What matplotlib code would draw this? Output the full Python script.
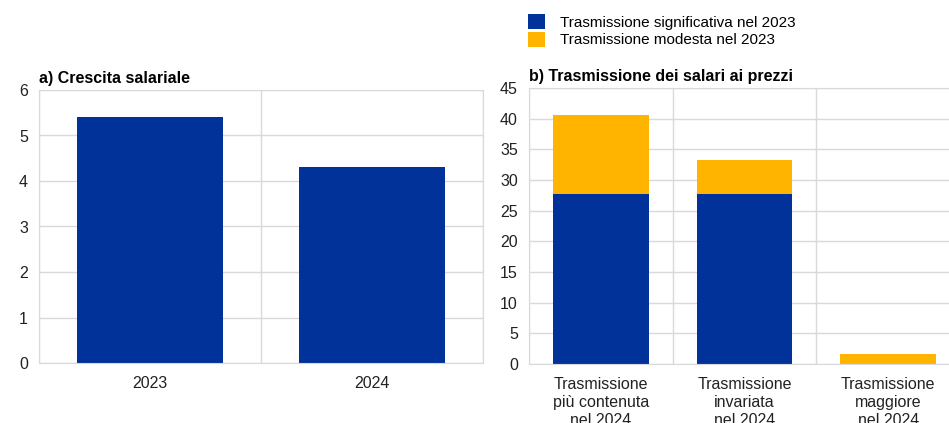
import matplotlib.pyplot as plt
import numpy as np

plt.rcParams["font.family"] = ["Liberation Sans", "DejaVu Sans"]

# panel a: wage growth
anni = ["2023", "2024"]
crescita = [5.4, 4.3]

# panel b: pass-through of wages to prices
categorie = ["Trasmissione\npiù contenuta\nnel 2024",
             "Trasmissione\ninvariata\nnel 2024",
             "Trasmissione\nmaggiore\nnel 2024"]
significativa = [27.7, 27.7, 0.0]
modesta = [12.9, 5.5, 1.7]

BLU = "#003299"
GIALLO = "#FFB400"
GRIGIO = "#d9d9d9"

fig = plt.figure(figsize=(9.49, 4.23), dpi=100)
ax1 = fig.add_axes([39 / 949, 1 - 363 / 423, 444 / 949, 273 / 423])
ax2 = fig.add_axes([529 / 949, 1 - 364 / 423, 431 / 949, 276 / 423])


def stile(ax, n):
    ax.set_xlim(-0.5, n - 0.5)
    ax.set_xticks(np.arange(n))
    ax.set_xticks(np.arange(n + 1) - 0.5, minor=True)
    ax.grid(axis="y", color=GRIGIO, lw=1)
    ax.grid(axis="x", which="minor", color=GRIGIO, lw=1)
    ax.set_axisbelow(True)
    for s in ax.spines.values():
        s.set_color(GRIGIO)
    ax.tick_params(which="both", length=0, labelsize=11.5, colors="#222222")
    ax.tick_params(axis="y", pad=8)


x1 = np.arange(len(anni))
ax1.bar(x1, crescita, width=0.66, color=BLU)
stile(ax1, len(anni))
ax1.set_ylim(0, 6)
ax1.set_yticks(range(0, 7))
ax1.set_xticklabels(anni)
ax1.tick_params(axis="x", pad=9)
ax1.set_title("a) Crescita salariale", loc="left", fontsize=11.5,
              fontweight="bold", x=0, y=1.01, pad=3)

x2 = np.arange(len(categorie))
ax2.bar(x2, significativa, width=0.667, color=BLU,
        label="Trasmissione significativa nel 2023")
ax2.bar(x2, modesta, width=0.667, bottom=significativa, color=GIALLO,
        label="Trasmissione modesta nel 2023")
stile(ax2, len(categorie))
ax2.set_ylim(0, 45)
ax2.set_yticks(range(0, 46, 5))
ax2.set_xticklabels(categorie, linespacing=1.25)
ax2.tick_params(axis="x", pad=9)
ax2.set_title("b) Trasmissione dei salari ai prezzi", loc="left", fontsize=11.5,
              fontweight="bold", x=0, y=1.01, pad=3)

fig.legend(loc="upper left", bbox_to_anchor=(522 / 949, 1 - 8 / 423),
           frameon=False, fontsize=11, handlelength=1.1, handleheight=1.1,
           handletextpad=1.0, labelspacing=0.15, borderaxespad=0)

fig.savefig("out.png", dpi=100)
